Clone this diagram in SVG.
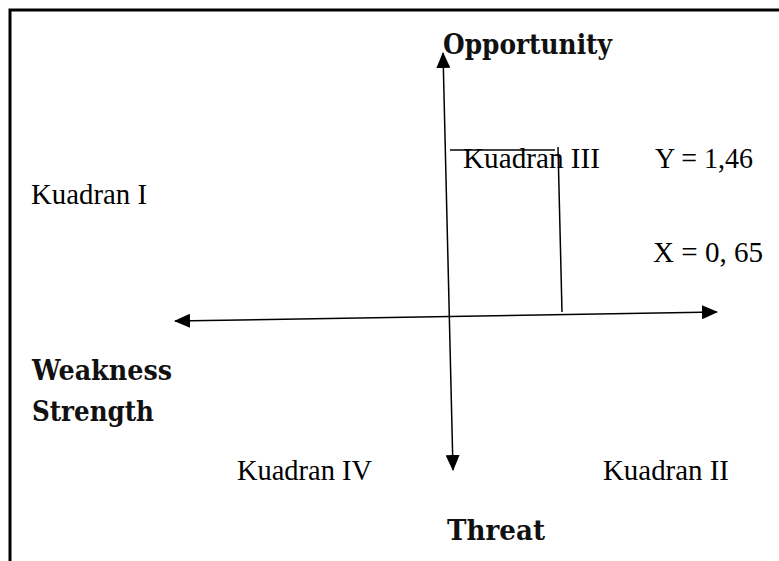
<svg xmlns="http://www.w3.org/2000/svg" width="779" height="561" viewBox="0 0 779 561">
<style>
.t{font-family:"Liberation Serif","Times New Roman",serif;font-size:28.5px;fill:#000}
.b{font-family:"DejaVu Serif","Liberation Serif",serif;font-weight:bold;font-size:28px;fill:#111}
.ln{stroke:#000;stroke-width:1.5;fill:none}
</style>
<defs>
<marker id="ah" viewBox="0 0 16 14" refX="15" refY="7" markerWidth="16" markerHeight="14" markerUnits="userSpaceOnUse" orient="auto-start-reverse">
<path d="M0,0 L16,7 L0,14 Z" fill="#000"/>
</marker>
</defs>
<rect width="779" height="561" fill="#fff"/>
<path d="M10,561 V10 H779" stroke="#000" stroke-width="3" fill="none"/>
<g id="connectors">
<line class="ln" x1="443" y1="53" x2="453" y2="470" marker-start="url(#ah)" marker-end="url(#ah)"/>
<line class="ln" x1="175" y1="321" x2="717" y2="312" marker-start="url(#ah)" marker-end="url(#ah)"/>
<line class="ln" x1="450" y1="150" x2="555" y2="150"/>
<line class="ln" x1="558" y1="147" x2="562" y2="312"/>
</g>
<g id="opportunity"><text class="b" x="443" y="54" textLength="169" lengthAdjust="spacingAndGlyphs">Opportunity</text></g>
<g id="threat"><text class="b" x="447" y="540" textLength="98" lengthAdjust="spacingAndGlyphs">Threat</text></g>
<g id="weakness"><text class="b" x="32" y="380" textLength="140" lengthAdjust="spacingAndGlyphs">Weakness</text></g>
<g id="strength"><text class="b" x="32" y="421" textLength="122" lengthAdjust="spacingAndGlyphs">Strength</text></g>
<g id="kuadran1"><text class="t" x="31" y="204" textLength="116" lengthAdjust="spacingAndGlyphs">Kuadran I</text></g>
<g id="kuadran3"><text class="t" x="463" y="168" textLength="137" lengthAdjust="spacingAndGlyphs">Kuadran III</text></g>
<g id="kuadran4"><text class="t" x="237" y="480" textLength="135" lengthAdjust="spacingAndGlyphs">Kuadran IV</text></g>
<g id="kuadran2"><text class="t" x="603" y="480" textLength="126" lengthAdjust="spacingAndGlyphs">Kuadran II</text></g>
<g id="yval"><text class="t" x="655" y="168" textLength="98" lengthAdjust="spacingAndGlyphs">Y = 1,46</text></g>
<g id="xval"><text class="t" x="653" y="262" textLength="110" lengthAdjust="spacingAndGlyphs">X = 0, 65</text></g>
</svg>
